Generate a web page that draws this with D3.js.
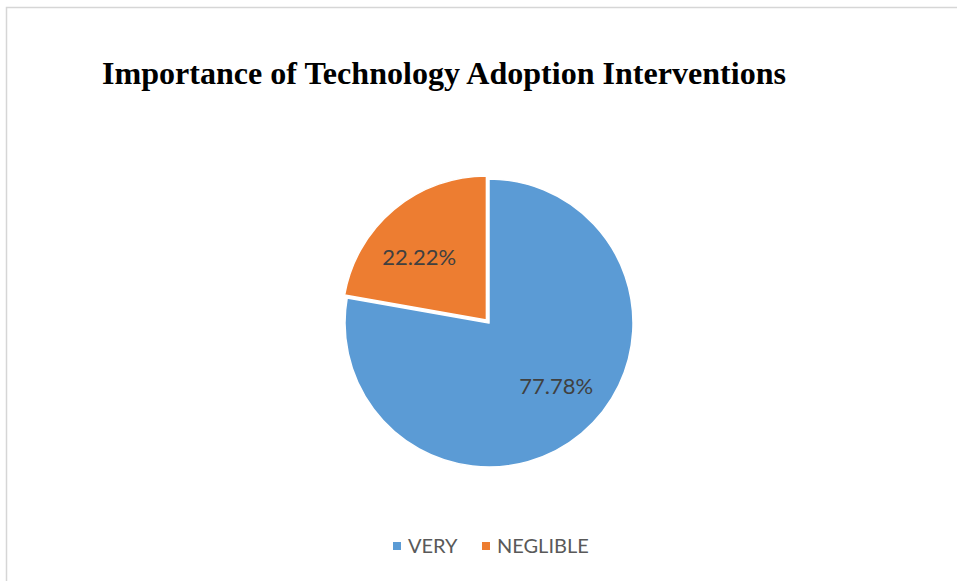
<!DOCTYPE html>
<html>
<head>
<meta charset="utf-8">
<script src="https://cdn.jsdelivr.net/npm/d3@7"></script>
<style>
  html, body { margin: 0; padding: 0; background: #ffffff; }
  svg { display: block; }
</style>
</head>
<body>
<svg id="chart" width="957" height="581"></svg>
<script>
// Survey shares
const categories = ["VERY", "NEGLIBLE"];
const shares = [77.78, 22.22];
const sliceColors = ["#5B9BD5", "#ED7D31"];
const chartTitle = "Importance of Technology Adoption Interventions";

const svg = d3.select("#chart");
const W = 957, H = 581;

// chart area frame
svg.append("rect")
  .attr("x", 6.5).attr("y", 7.5)
  .attr("width", W + 10).attr("height", H + 10)
  .attr("fill", "#ffffff")
  .attr("stroke", "#d6d6d6")
  .attr("stroke-width", 1.5);

// title
svg.append("text")
  .attr("x", 102).attr("y", 84)
  .attr("font-family", "'Liberation Serif', 'Times New Roman', serif")
  .attr("font-weight", "bold")
  .attr("font-size", 31)
  .attr("textLength", 684)
  .attr("lengthAdjust", "spacingAndGlyphs")
  .attr("fill", "#000000")
  .text(chartTitle);

// pie
const cx = 489, cy = 323, radius = 144, explode = 4, labelR = 92, labelTurn = -0.12;
const data = categories.map((c, i) => ({ name: c, value: shares[i] }));
const color = d3.scaleOrdinal().domain(categories).range(sliceColors);
const pie = d3.pie().value(d => d.value).sort(null).startAngle(0).endAngle(2 * Math.PI);
const arc = d3.arc().innerRadius(0).outerRadius(radius);

const arcs = pie(data);
const g = svg.append("g").attr("transform", `translate(${cx},${cy})`);

const slice = g.selectAll("g.slice").data(arcs).enter().append("g")
  .attr("class", "slice")
  .attr("transform", d => {
    if (d.data.name !== "NEGLIBLE") return null;
    const mid = (d.startAngle + d.endAngle) / 2;
    return `translate(${explode * Math.sin(mid)},${-explode * Math.cos(mid)})`;
  });

slice.append("path")
  .attr("d", arc)
  .attr("fill", d => color(d.data.name))
  .attr("stroke", "#ffffff")
  .attr("stroke-width", 1.5)
  .attr("stroke-linejoin", "round");

// data labels sit inside each slice, a little before its mid angle
slice.append("text")
  .attr("transform", d => {
    const a = (d.startAngle + d.endAngle) / 2 + labelTurn;
    return `translate(${labelR * Math.sin(a)},${-labelR * Math.cos(a)})`;
  })
  .attr("text-anchor", "middle")
  .attr("dy", "0.35em")
  .attr("font-family", "Lato, 'Open Sans', sans-serif")
  .attr("font-size", 22)
  .attr("fill", "#404040")
  .text(d => d3.format(".2f")(d.data.value) + "%");

// legend
const legend = svg.append("g").attr("transform", "translate(0,546)");
const legendX = [393, 482];
const item = legend.selectAll("g").data(categories).enter().append("g")
  .attr("transform", (d, i) => `translate(${legendX[i]},0)`);
item.append("rect")
  .attr("x", 0).attr("y", -4)
  .attr("width", 8).attr("height", 8)
  .attr("fill", d => color(d));
item.append("text")
  .attr("x", 15).attr("y", 0)
  .attr("dy", "0.35em")
  .attr("font-family", "Lato, 'Open Sans', sans-serif")
  .attr("font-size", 20)
  .attr("fill", "#595959")
  .text(d => d);
</script>
</body>
</html>
